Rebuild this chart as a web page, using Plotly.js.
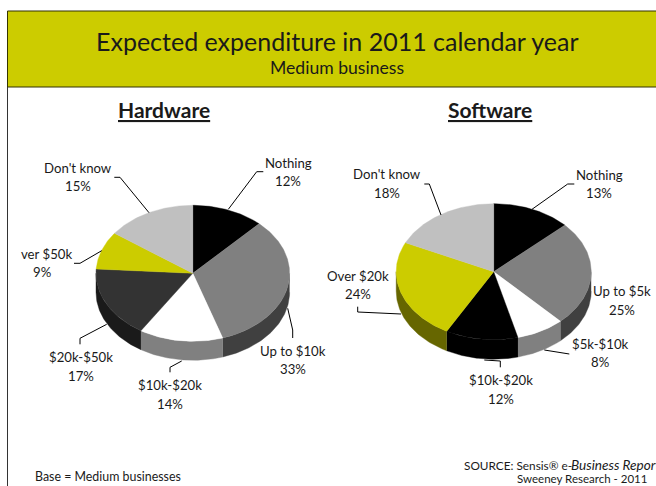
<!DOCTYPE html>
<html><head><meta charset="utf-8">
<script src="https://cdn.plot.ly/plotly-3.0.1.min.js"></script>
<style>html,body{margin:0;padding:0;background:#fff;overflow:hidden}#c{width:656px;height:486px}</style>
</head><body><div id="c"></div>
<script>
var hardwareCategories = ["Nothing","Up to $10k","$10k-$20k","$20k-$50k","Over $50k","Don't know"];
var hardwareValues = [12,33,14,17,9,15];
var hardwareTopColors = ["#000000","#808080","#ffffff","#333333","#cccc00","#c0c0c0"];
var hardwareSideColors = ["#000000","#404040","#808080","#1a1a1a","#666600","#606060"];
var softwareCategories = ["Nothing","Up to $5k","$5k-$10k","$10k-$20k","Over $20k","Don't know"];
var softwareValues = [13,25,8,12,24,18];
var softwareTopColors = ["#000000","#808080","#ffffff","#000000","#cccc00","#c0c0c0"];
var softwareSideColors = ["#000000","#404040","#808080","#000000","#666600","#606060"];

var LABEL_FONT = "Lato, sans-serif";
var hardwareGeom = {cx:192.8, cy:273.3, rx:96.8, ry:68, depth:19};
var softwareGeom = {cx:493.7, cy:271.7, rx:97.5, ry:68, depth:19.5};

function pt(g,deg,dy){var r=deg*Math.PI/180;return [g.cx+g.rx*Math.sin(r), g.cy-g.ry*Math.cos(r)+(dy||0)];}
function arc(g,a,b,dy){var out=[],n=Math.max(2,Math.ceil(Math.abs(b-a)));for(var i=0;i<=n;i++){out.push(pt(g,a+(b-a)*i/n,dy));}return out;}
function poly(points,color,name){return {type:'scatter',mode:'lines',fill:'toself',fillcolor:color,line:{color:color,width:0.4},
  x:points.map(function(p){return p[0]}),y:points.map(function(p){return p[1]}),name:name,hoverinfo:'name',showlegend:false};}
function pie3d(cats,vals,tops,sides,g){
  var total=vals.reduce(function(a,b){return a+b},0),cum=0,side=[],top=[];
  vals.forEach(function(v,i){
    var a=cum/total*360,b=(cum+v)/total*360;cum+=v;
    var s=Math.max(a,90),e=Math.min(b,270);
    if(e>s){side.push(poly(arc(g,s,e,0).concat(arc(g,e,s,g.depth)),sides[i],cats[i]));}
    top.push(poly([[g.cx,g.cy]].concat(arc(g,a,b,0)).concat([[g.cx,g.cy]]),tops[i],cats[i]));
  });
  return side.concat(top);
}
var traces=pie3d(hardwareCategories,hardwareValues,hardwareTopColors,hardwareSideColors,hardwareGeom)
  .concat(pie3d(softwareCategories,softwareValues,softwareTopColors,softwareSideColors,softwareGeom));

var leaderPaths=[
 "M228.3,209.3L256.7,171.7L263.3,171.7","M287.7,308.3L292.7,330L292.7,338","M181.7,361L170,367.3L170,372.3",
 "M106.7,324.3L80,338.3L80,344.3","M101.7,250.7L80,263.3L74,263.3","M149,212.7L120,177.3L114.3,177.3",
 "M532,209.3L567.7,184L574.3,184","M544.3,350L569.3,354","M484.3,360L500.3,361L500.3,367.3",
 "M401,314L357.7,312L357.7,306.7","M441,215L429.3,184L424.3,184"];
var shapes=[
 {type:'rect',xref:'x',yref:'y',x0:7.5,x1:660,y0:11,y1:87,fillcolor:'#cccc00',line:{color:'#333300',width:1},layer:'below'},
 {type:'line',xref:'x',yref:'y',x0:7.5,x1:7.5,y0:87,y1:490,line:{color:'#333333',width:1},layer:'below'}
].concat(leaderPaths.map(function(p){return {type:'path',path:p,xref:'x',yref:'y',line:{color:'#000',width:1}}}));

function txt(t,x,y,size,extra){var o={text:t,x:x,y:y,xref:'x',yref:'y',showarrow:false,xanchor:'center',yanchor:'middle',
  font:{family:LABEL_FONT,size:size,color:'#1a1a1a'},captureevents:false};for(var k in extra){o[k]=extra[k]}return o;}
var labelRows=[
 ["Nothing",288,162.5],["12%",288,180.5],["Up to $10k",292.5,350.5],["33%",292.5,368.5],["$10k-$20k",170,384.5],["14%",170,403.5],
 ["$20k-$50k",80.7,356.5],["17%",80.7,375.5],["ver $50k",46,253.5],["9%",41.7,271.5],["Don't know",78,167.5],["15%",78,186],
 ["Nothing",599,174.5],["13%",599,192.5],["Up to $5k",622,290.5],["25%",622,309.5],["$5k-$10k",600,343.5],["8%",600,361.5],
 ["$10k-$20k",501,379.5],["12%",501,398.5],["Over $20k",357.7,275.5],["24%",357.7,293.5],["Don't know",387,173.5],["18%",387,192.5]];
var annotations=labelRows.map(function(r){return txt(r[0],r[1],r[2],13.2);}).concat([
 txt("Expected expenditure in 2011 calendar year",337,40.5,25),
 txt("Medium business",337,67,17.6),
 txt("<b><u>Hardware</u></b>",164,109.5,21),
 txt("<b><u>Software</u></b>",490,109.5,21),
 txt("Base = Medium businesses",33,476.5,12.4,{xanchor:'left'}),
 txt("SOURCE: Sensis® e-",462,465,11.8,{xanchor:'left'}),
 txt("<i>Business Report</i>",569,465,13.6,{xanchor:'left'}),
 txt("Sweeney Research - 2011",582,478.5,11.5)
]);
var layout={width:656,height:486,margin:{l:0,r:0,t:0,b:0},paper_bgcolor:'#fff',plot_bgcolor:'rgba(0,0,0,0)',showlegend:false,
 xaxis:{range:[0,656],visible:false,fixedrange:true},yaxis:{range:[486,0],visible:false,fixedrange:true},
 shapes:shapes,annotations:annotations};
Plotly.newPlot('c',traces,layout,{displayModeBar:false,staticPlot:true});
</script></body></html>
